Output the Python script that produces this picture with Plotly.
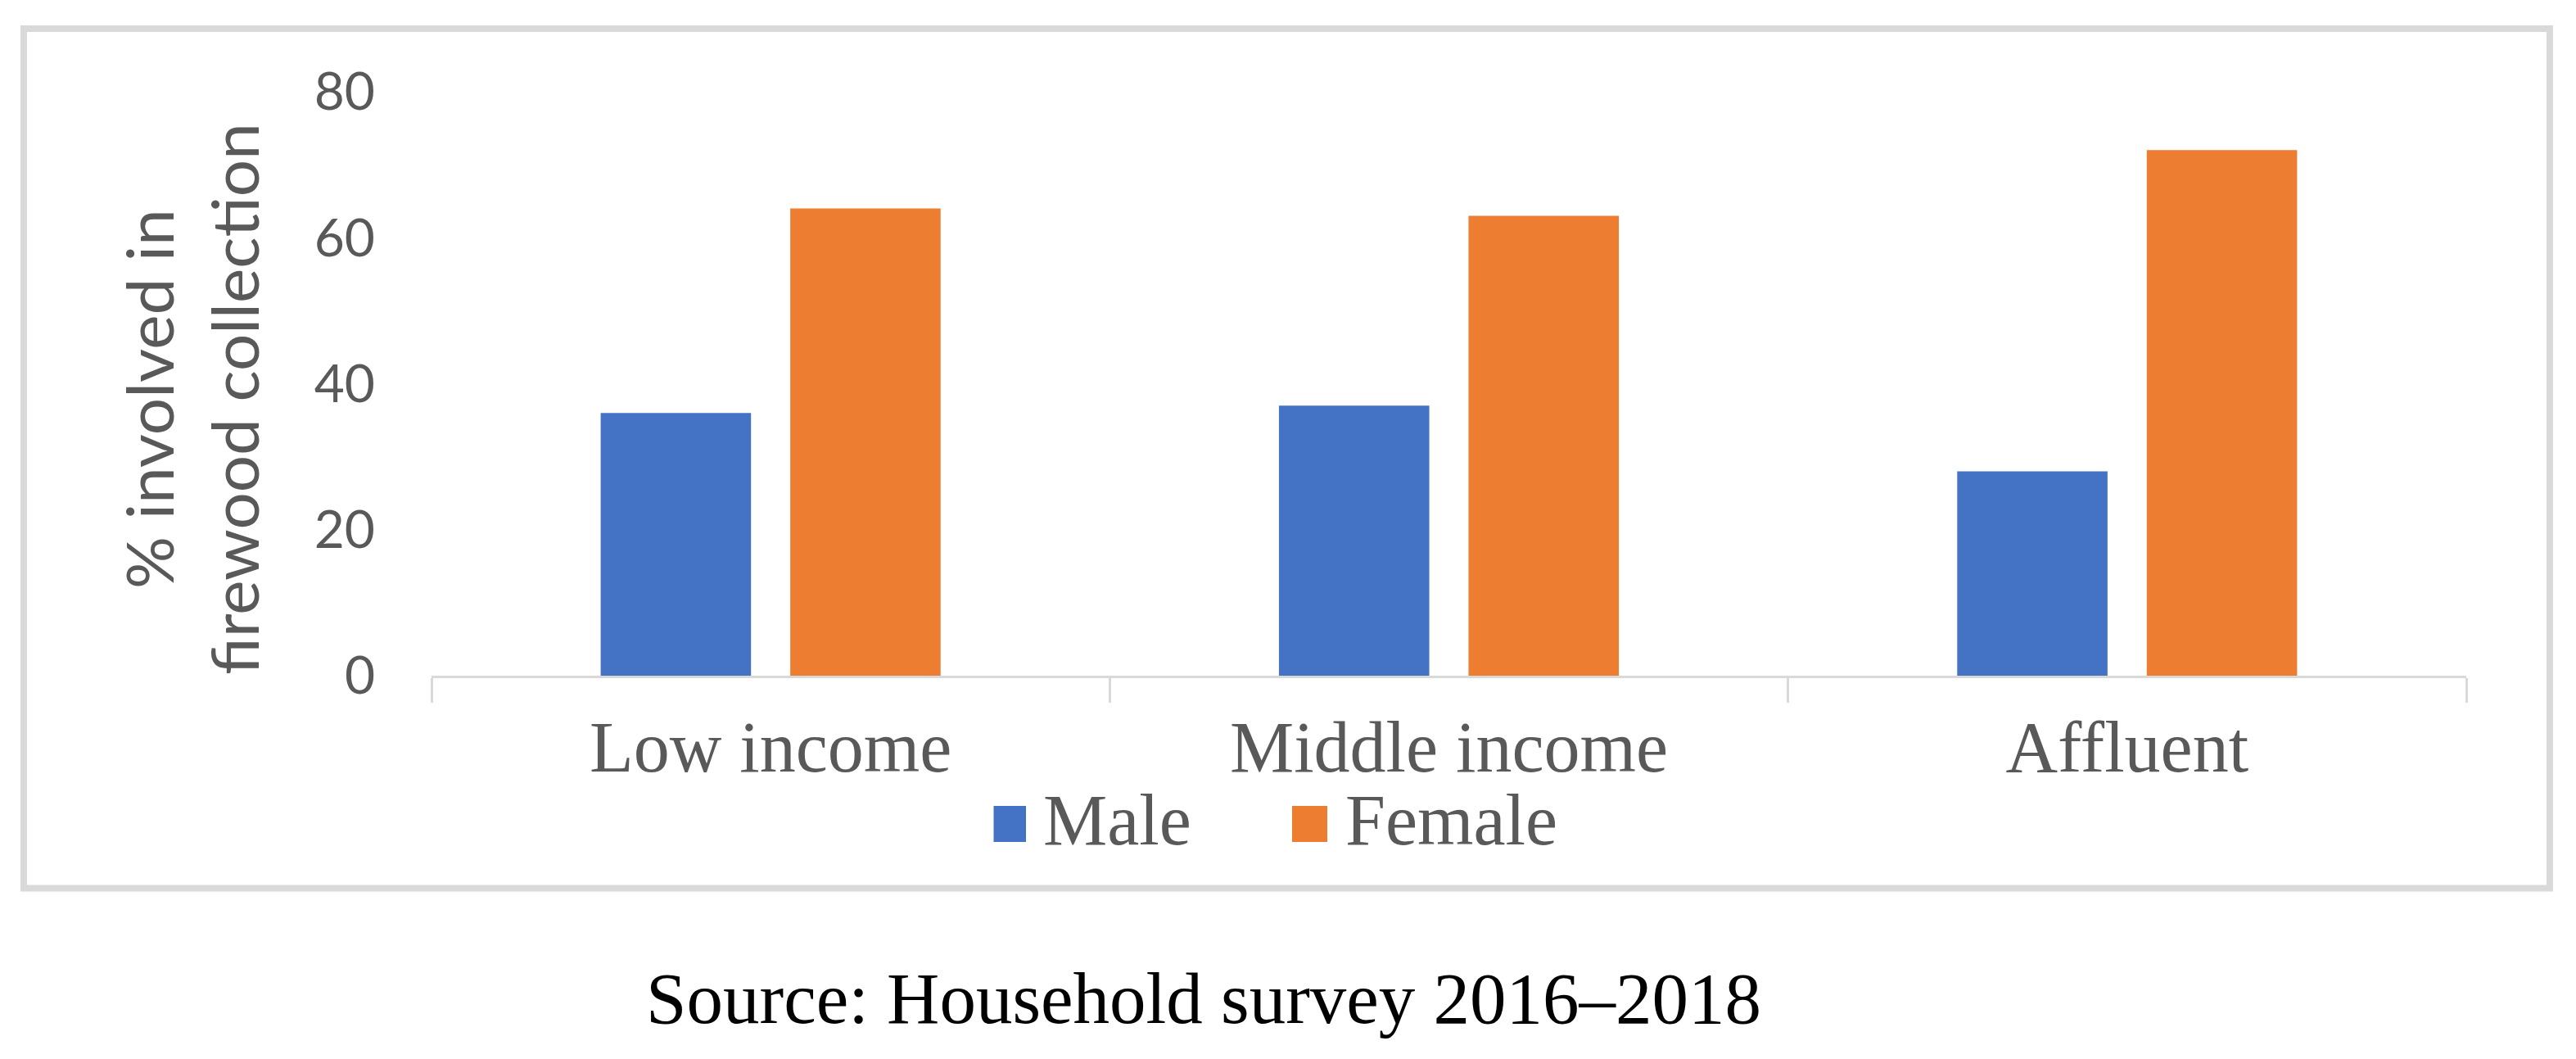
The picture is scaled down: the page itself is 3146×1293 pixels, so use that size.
import plotly.graph_objects as go

# ---- data ----
categories = ["Low income", "Middle income", "Affluent"]
series_names = ["Male", "Female"]
male_values = [36, 37, 28]
female_values = [64, 63, 72]
y_tick_values = [0, 20, 40, 60, 80]
y_title_lines = ["% involved in", "firewood collection"]
source_text = "Source: Household survey 2016\u20132018"

# ---- styles ----
W, H = 3146, 1293
L, R, T, B = 527, 3012, 112, 825  # plot area in pixels
colors = ["#4472C4", "#ED7D31"]
gray_text = "#595959"
line_gray = "#D9D9D9"
serif = "Liberation Serif, Times New Roman, serif"
sans = "Lato, Open Sans, sans-serif"


def px2x(px):
    return (px - L) / (R - L)


def py2y(py):
    return (B - py) / (B - T)


fig = go.Figure()
for name, vals, col in zip(series_names, [male_values, female_values], colors):
    fig.add_trace(go.Bar(
        x=categories, y=vals, name=name,
        marker=dict(color=col, line=dict(width=0)),
        showlegend=False,
    ))

shapes = []
annotations = []

# outer frame
shapes.append(dict(type="rect", xref="paper", yref="paper",
                   x0=px2x(29), x1=px2x(3114), y0=py2y(35), y1=py2y(1084.5),
                   line=dict(color=line_gray, width=8), fillcolor="rgba(0,0,0,0)",
                   layer="below"))

# y axis title
annotations.append(dict(
    xref="paper", yref="paper", x=px2x(233), y=py2y(487),
    text="<br>".join(y_title_lines), textangle=-90, showarrow=False,
    font=dict(family=sans, size=80, color=gray_text),
    xanchor="center", yanchor="middle",
))

# legend (manual, to get large swatches)
legend_items = [
    (series_names[0], colors[0], 1213.5, 1253, 1273),
    (series_names[1], colors[1], 1578, 1621, 1642),
]
for name, col, sx0, sx1, tx in legend_items:
    shapes.append(dict(type="rect", xref="paper", yref="paper",
                       x0=px2x(sx0), x1=px2x(sx1), y0=py2y(1028), y1=py2y(984),
                       line=dict(width=0), fillcolor=col))
    annotations.append(dict(
        xref="paper", yref="paper", x=px2x(tx), y=py2y(1001),
        text=name, showarrow=False, xanchor="left", yanchor="middle",
        font=dict(family=serif, size=88, color=gray_text), borderpad=0,
    ))

# source line
annotations.append(dict(
    xref="paper", yref="paper", x=px2x(1470), y=py2y(1219),
    text=source_text, showarrow=False, xanchor="center", yanchor="middle",
    font=dict(family=serif, size=89, color="#000000"), borderpad=0,
))

fig.update_layout(
    width=W, height=H,
    margin=dict(l=L, r=W - R, t=T, b=H - B, pad=0),
    paper_bgcolor="white", plot_bgcolor="white",
    barmode="group", bargap=0.441, bargroupgap=0.207,
    shapes=shapes, annotations=annotations,
    showlegend=False,
    xaxis=dict(
        showline=True, linecolor=line_gray, linewidth=3,
        ticks="outside", tickson="boundaries", ticklen=30, tickwidth=3,
        tickcolor=line_gray, showgrid=False, zeroline=False,
        tickfont=dict(family=serif, size=88, color=gray_text),
        ticklabelstandoff=8,
    ),
    yaxis=dict(
        range=[0, 80], tickvals=y_tick_values, showgrid=False, zeroline=False,
        showline=False, ticks="", ticklabelstandoff=68,
        tickfont=dict(family=sans, size=64, color=gray_text),
    ),
)

fig.write_html(
    "out.html",
    config={"displayModeBar": False},
    post_script="document.body.style.margin='0';document.body.style.padding='0';",
)
